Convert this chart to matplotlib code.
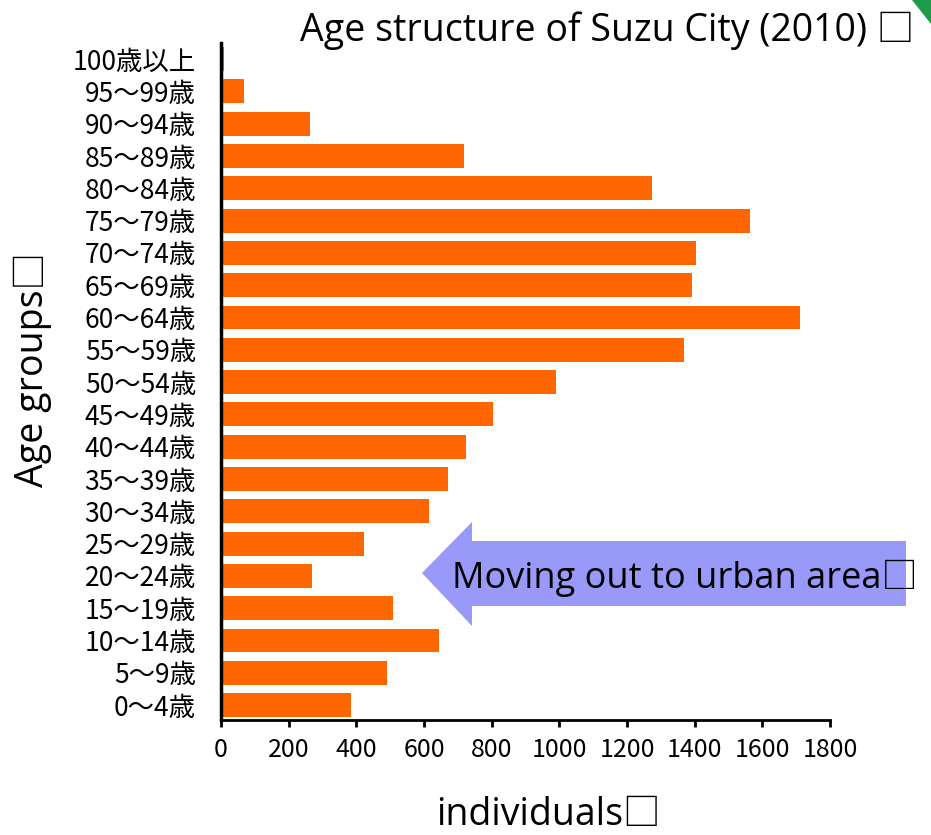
import matplotlib
matplotlib.use("Agg")
import matplotlib.pyplot as plt
from matplotlib.patches import Polygon

# 珠洲市の年齢別人口 (2010)
age_groups = ["0～4歳", "5～9歳", "10～14歳", "15～19歳", "20～24歳", "25～29歳",
              "30～34歳", "35～39歳", "40～44歳", "45～49歳", "50～54歳", "55～59歳",
              "60～64歳", "65～69歳", "70～74歳", "75～79歳", "80～84歳", "85～89歳",
              "90～94歳", "95～99歳", "100歳以上"]
population = [383, 491, 643, 507, 268, 424,
              615, 672, 724, 803, 989, 1368,
              1710, 1392, 1403, 1565, 1274, 719,
              264, 67, 9]
x_ticks = [0, 200, 400, 600, 800, 1000, 1200, 1400, 1600, 1800]

W, H = 931, 835
latin = ["Open Sans", "Noto Sans CJK JP"]
cjk = ["Noto Sans CJK JP", "DejaVu Sans"]

fig = plt.figure(figsize=(W / 100, H / 100), dpi=100)
ax = fig.add_axes([221 / W, 1 - 720 / H, (830 - 221) / W, (720 - 43) / H])

ax.barh(range(len(age_groups)), population, height=0.74, color="#FF6600")
ax.set_xlim(0, 1800)
ax.set_ylim(-0.46, 20.5)
ax.set_xticks(x_ticks)
ax.set_yticks(range(len(age_groups)))
ax.set_yticklabels(age_groups, family=cjk, fontsize=19)
ax.set_xticklabels([str(v) for v in x_ticks], family=cjk, fontsize=18)
ax.tick_params(axis="y", length=0, pad=18)
ax.tick_params(axis="x", length=5, width=2, pad=7, direction="out")
for s in ["top", "right"]:
    ax.spines[s].set_visible(False)
ax.spines["left"].set_linewidth(2.5)
ax.spines["bottom"].set_linewidth(2)

def px(x, y):
    return (x / W, 1 - y / H)

fig.text(*px(300, 41), "Age structure of Suzu City (2010) □", family=latin,
         fontsize=27, ha="left", va="baseline")
fig.text(*px(33, 370), "Age groups□", family=latin, fontsize=27,
         rotation=90, ha="center", va="center")
fig.text(*px(548, 825), "individuals□", family=latin, fontsize=27,
         ha="center", va="baseline")

# arrow
arrow_pts = [px(422, 573), px(472, 522), px(472, 541), px(906, 541),
             px(906, 606), px(472, 606), px(472, 626)]
fig.patches.append(Polygon(arrow_pts, closed=True, transform=fig.transFigure,
                           facecolor="#9999FA", edgecolor="none", zorder=5))
fig.text(*px(452, 588), "Moving out to urban area□", family=latin, fontsize=26,
         ha="left", va="baseline", zorder=6)

# green corner shape
fig.patches.append(Polygon([px(912, 0), px(931, 0), px(931, 24)], closed=True,
                           transform=fig.transFigure, facecolor="#1E9A4A",
                           edgecolor="none"))

fig.savefig("out.png", dpi=100)
